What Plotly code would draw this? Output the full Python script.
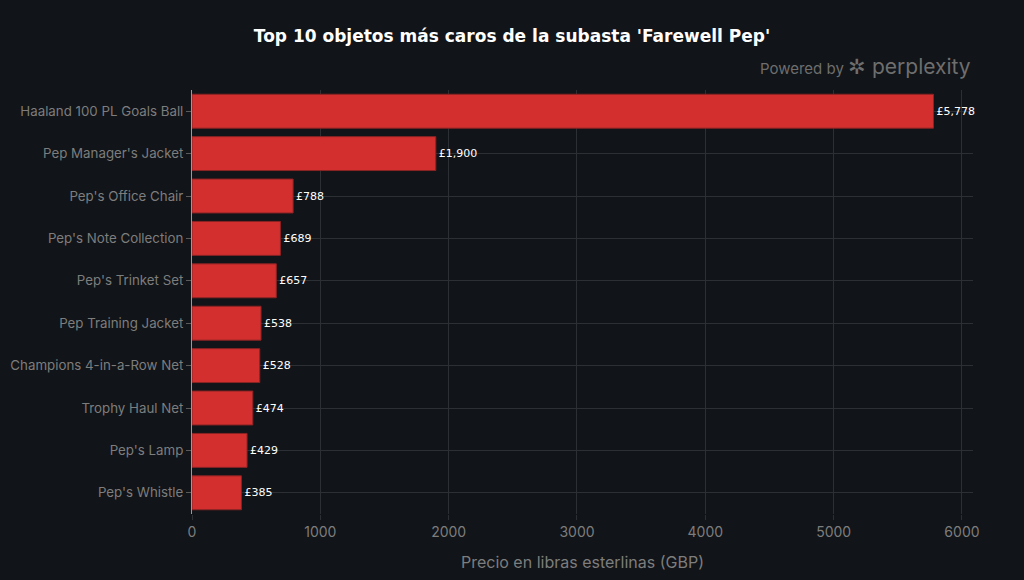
import plotly.graph_objects as go

items = ["Haaland 100 PL Goals Ball", "Pep Manager's Jacket", "Pep's Office Chair",
         "Pep's Note Collection", "Pep's Trinket Set", "Pep Training Jacket",
         "Champions 4-in-a-Row Net", "Trophy Haul Net", "Pep's Lamp", "Pep's Whistle"]
prices = [5778, 1900, 788, 689, 657, 538, 528, 474, 429, 385]
labels = ["£{:,}".format(p) for p in prices]

fig = go.Figure(go.Bar(
    x=prices, y=items, orientation="h",
    marker=dict(color="#d32f2f", line=dict(color="#8a2424", width=1)),
    width=0.8,
    text=labels, textposition="outside", cliponaxis=False,
    textfont=dict(family="DejaVu Sans", size=11, color="#ffffff"),
))

fig.update_layout(
    width=1024, height=580,
    paper_bgcolor="#111418", plot_bgcolor="#111418",
    margin=dict(l=192, r=51, t=90, b=66),
    title=dict(text="<b>Top 10 objetos más caros de la subasta 'Farewell Pep'</b>",
               x=0.5, xanchor="center", y=0.938, yanchor="middle",
               font=dict(family="DejaVu Sans", size=17, color="#ffffff")),
    font=dict(family="Inter", color="#7d7d7d", size=13),
    showlegend=False,
    bargap=0.2,
)
fig.update_xaxes(
    automargin=False,
    range=[0, 6086], tickvals=[0, 1000, 2000, 3000, 4000, 5000, 6000],
    showgrid=True, gridcolor="#2c2f33", gridwidth=1, zeroline=False,
    ticks="outside", ticklen=5, tickcolor="#2c2f33",
    tickfont=dict(family="Inter", size=14, color="#7d7d7d"),
    title=dict(text="Precio en libras esterlinas (GBP)", standoff=18,
               font=dict(family="Inter", size=16, color="#7d7d7d")),
)
fig.update_yaxes(
    automargin=False,
    categoryorder="array", categoryarray=items[::-1],
    showgrid=True, gridcolor="#2c2f33", gridwidth=1,
    showline=True, linecolor="#9a9a9a", linewidth=1,
    ticks="outside", ticklen=5, tickcolor="#5a5a5a",
    tickfont=dict(family="Inter", size=13.3, color="#7d7d7d"),
)
fig.add_annotation(text="Powered by <span style='font-size:21px'>✲ perplexity</span>",
                   xref="paper", yref="paper", x=1.0, y=1.055,
                   xanchor="right", yanchor="middle", showarrow=False,
                   font=dict(family="Inter", size=15, color="#6e6e6e"))

fig.write_html("out.html")
